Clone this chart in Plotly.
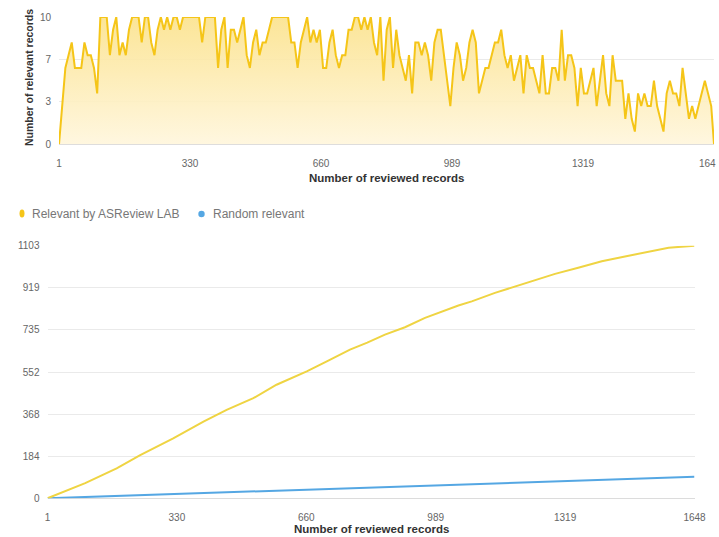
import plotly.graph_objects as go

W, H = 719, 537

# ---------------- data ----------------
# Top panel: relevant records in a moving window, sampled every 8 reviewed records
top_records = list(range(1, 1648, 8)) + [1648]
top_relevant = [
    0, 3, 6, 7, 8, 6, 6, 6, 8, 7, 7, 6, 4, 10, 10, 10, 7, 9, 10, 7,
    8, 7, 9, 10, 10, 10, 8, 10, 10, 8, 7, 9, 10, 9, 10, 9, 10, 10, 9, 10,
    10, 10, 10, 10, 10, 8, 10, 10, 10, 10, 6, 9, 10,
    6, 9, 9, 8, 9, 10, 7, 6, 8, 9, 7, 8, 8, 9, 10, 10, 10, 10, 10, 10,
    8, 8, 6, 8, 9, 10, 8, 9, 8, 9, 6, 6, 8, 9, 7, 6, 7, 7, 9, 9,
    10, 10, 9, 10, 9, 10, 8, 7, 10, 5, 9,
    10, 6, 9, 7, 6, 5, 7, 4, 8, 8, 7, 8, 7, 5, 8, 9, 9, 7, 5, 3,
    6, 8, 7, 5, 6, 8, 9, 8, 4, 5, 6, 6, 7, 8, 8, 9, 7, 6, 7, 5,
    6, 7, 4, 7, 6, 6, 5, 4, 7, 4, 4, 6,
    6, 5, 9, 5, 7, 7, 6, 3, 6, 4, 4, 5, 6, 3, 5, 7, 4, 3, 7, 5,
    5, 5, 2, 4, 2, 1, 4, 3, 4, 3, 3, 5, 3, 2, 1, 4, 5, 4, 4, 3,
    6, 4, 2, 3, 2, 3, 4, 5, 4, 3,
    0,
]

# Bottom panel: cumulative relevant records
asr_records = [1, 97, 177, 237, 321, 398, 457, 525, 584, 661, 712, 771, 815, 860,
               911, 962, 1047, 1081, 1140, 1200, 1250, 1293, 1352, 1412, 1471,
               1531, 1582, 1648]
asr_relevant = [0, 66, 131, 189, 262, 335, 386, 437, 496, 554, 598, 649, 680, 715,
                747, 788, 842, 860, 897, 930, 955, 980, 1007, 1035, 1056,
                1077, 1094, 1103]
rand_records = [1, 820, 1648]
rand_relevant = [0, 48, 94]

x_tickvals = [1, 330.4, 659.8, 989.2, 1318.6, 1648]
x_ticktext = ["1", "330", "660", "989", "1319", "1648"]
# the top panel's last label is cut by the picture's right edge ("164")
top_x_ticktext = ["1", "330", "660", "989", "1319", ""]
top_last_label = "164"
top_tickvals = [0, 10 / 3, 20 / 3, 10]
top_ticktext = ["0", "3", "7", "10"]
bot_tickvals = [0, 1103 / 6, 2 * 1103 / 6, 3 * 1103 / 6, 4 * 1103 / 6, 5 * 1103 / 6, 1103]
bot_ticktext = ["0", "184", "368", "552", "735", "919", "1103"]

legend_names = ["Relevant by ASReview LAB", "Random relevant"]

# ---------------- style ----------------
FONT = "Arial, Liberation Sans, sans-serif"
GOLD = "#F5C518"
YEL = "#EFD443"
BLUE = "#55A7E3"
GRID = "#EAEAEA"
TICK = "#666666"


def px(x):
    return x / W


def py(y):
    return 1 - y / H


fig = go.Figure()

fig.add_trace(go.Scatter(
    x=top_records, y=top_relevant, mode="lines", xaxis="x", yaxis="y",
    line=dict(color=GOLD, width=2), fill="tozeroy",
    fillgradient=dict(type="vertical", start=0, stop=10,
                      colorscale=[[0, "rgba(255,246,220,0.9)"], [1, "rgba(251,226,140,0.9)"]]),
    showlegend=False, name="Relevant in window", hoverinfo="skip"))

fig.add_trace(go.Scatter(
    x=rand_records, y=rand_relevant, mode="lines", xaxis="x2", yaxis="y2",
    line=dict(color=BLUE, width=2), showlegend=False, name=legend_names[1], hoverinfo="skip"))
fig.add_trace(go.Scatter(
    x=asr_records, y=asr_relevant, mode="lines", xaxis="x2", yaxis="y2",
    line=dict(color=YEL, width=2), showlegend=False, name=legend_names[0], hoverinfo="skip"))

tick_font = dict(family=FONT, size=10, color=TICK)
axis_common = dict(showgrid=False, zeroline=False, ticks="", tickfont=tick_font,
                   fixedrange=True, ticklabelstandoff=0)

fig.update_layout(
    width=W, height=H, margin=dict(l=0, r=0, t=0, b=0, autoexpand=False),
    paper_bgcolor="white", plot_bgcolor="white", showlegend=False,
    font=dict(family=FONT), dragmode=False, hovermode=False,
    xaxis=dict(domain=[px(59), px(714)], range=[1, 1648], anchor="y",
               tickvals=x_tickvals, ticktext=top_x_ticktext, ticklabelstandoff=12,
               **{k: v for k, v in axis_common.items() if k != "ticklabelstandoff"}),
    yaxis=dict(domain=[py(144.3), py(17)], range=[0, 10], anchor="x",
               tickvals=top_tickvals, ticktext=top_ticktext, ticklabelstandoff=7,
               **{**{k: v for k, v in axis_common.items() if k != "ticklabelstandoff"},
                  "showgrid": True, "gridcolor": GRID,
                  "zeroline": True, "zerolinecolor": "#DCDCDC", "zerolinewidth": 1.5}),
    xaxis2=dict(domain=[px(47.5), px(694.5)], range=[1, 1648], anchor="y2",
                tickvals=x_tickvals, ticktext=x_ticktext, ticklabelstandoff=12,
                **{k: v for k, v in axis_common.items() if k != "ticklabelstandoff"}),
    yaxis2=dict(domain=[py(498.3), py(245.7)], range=[0, 1103], anchor="x2",
                tickvals=bot_tickvals, ticktext=bot_ticktext, ticklabelstandoff=7,
                **{**{k: v for k, v in axis_common.items() if k != "ticklabelstandoff"},
                   "showgrid": True, "gridcolor": GRID,
                   "zeroline": True, "zerolinecolor": "#DCDCDC", "zerolinewidth": 1.5}),
)

fig.add_annotation(text=top_last_label, xref="paper", yref="paper",
                   x=px(717), y=py(163.5), xanchor="right", yanchor="middle", borderpad=0,
                   showarrow=False, font=tick_font)

title_font = dict(family=FONT, size=11.5, color="#333333")
fig.add_annotation(text="<b>Number of reviewed records</b>", xref="paper", yref="paper",
                   x=px(386.5), y=py(178), xanchor="center", yanchor="middle",
                   showarrow=False, font=title_font)
fig.add_annotation(text="<b>Number of relevant records</b>", xref="paper", yref="paper",
                   x=px(29), y=py(78), xanchor="center", yanchor="middle", textangle=-90,
                   borderpad=0, showarrow=False, font=dict(family=FONT, size=10.5, color="#333333"))
fig.add_annotation(text="<b>Number of reviewed records</b>", xref="paper", yref="paper",
                   x=px(371), y=py(529), xanchor="center", yanchor="middle", borderpad=0,
                   showarrow=False, font=title_font)

# legend
leg_font = dict(family=FONT, size=12, color="#777777")
fig.add_annotation(text=legend_names[0], xref="paper", yref="paper", x=px(30), y=py(213.5),
                   xanchor="left", yanchor="middle", showarrow=False, font=leg_font)
fig.add_annotation(text=legend_names[1], xref="paper", yref="paper", x=px(211), y=py(213.5),
                   xanchor="left", yanchor="middle", showarrow=False, font=leg_font)
fig.add_shape(type="circle", xref="paper", yref="paper",
              x0=px(19.5), x1=px(24.5), y0=py(217.5), y1=py(209.5),
              fillcolor=GOLD, line=dict(width=0))
fig.add_shape(type="circle", xref="paper", yref="paper",
              x0=px(198.3), x1=px(204.7), y0=py(217.2), y1=py(210.8),
              fillcolor=BLUE, line=dict(width=0))

fig.write_html(
    "out.html",
    config={"displayModeBar": False, "staticPlot": True},
    post_script=(
        "document.body.style.margin='0';document.body.style.padding='0';"
        "document.documentElement.style.overflow='hidden';"
    ),
)
